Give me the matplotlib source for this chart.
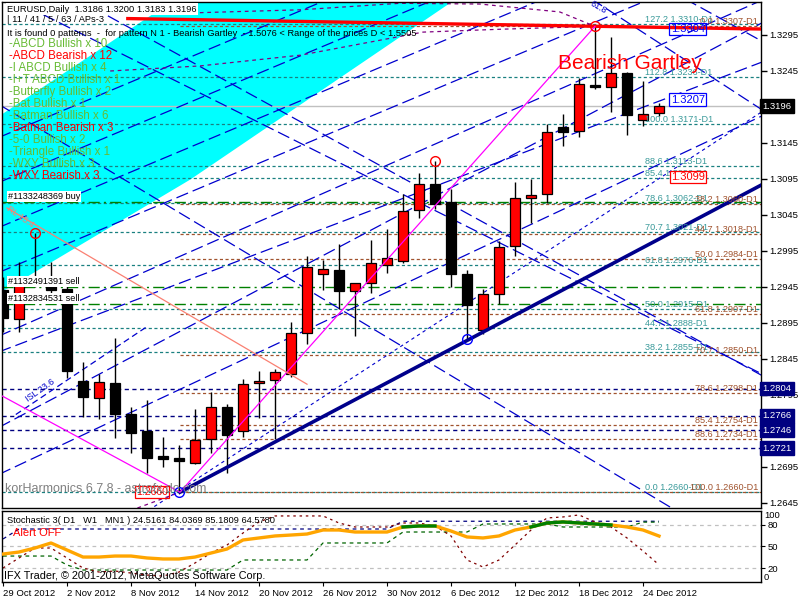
import matplotlib
matplotlib.use('Agg')
import matplotlib.pyplot as plt
import matplotlib.transforms as mtransforms
from matplotlib.patches import Rectangle, Polygon
import numpy as np

plt.rcParams['font.family'] = ['Liberation Sans', 'DejaVu Sans']

# ---------------- data ----------------
date_labels = ['29 Oct 2012', '2 Nov 2012', '8 Nov 2012', '14 Nov 2012', '20 Nov 2012',
               '26 Nov 2012', '30 Nov 2012', '6 Dec 2012', '12 Dec 2012', '18 Dec 2012',
               '24 Dec 2012']
date_bars = [0, 4, 8, 12, 16, 20, 24, 28, 32, 36, 40]

opens  = [1.2941, 1.2901, 1.2956, 1.2957, 1.2942, 1.2814, 1.2791, 1.2811, 1.2768, 1.2745,
          1.2710, 1.2708, 1.2701, 1.2734, 1.2778, 1.2745, 1.2811, 1.2816, 1.2824, 1.2881,
          1.2963, 1.2969, 1.2939, 1.2951, 1.2975, 1.2981, 1.3052, 1.3088, 1.3063, 1.2963,
          1.2885, 1.2935, 1.3002, 1.3069, 1.3074, 1.3167, 1.3162, 1.3226, 1.3223, 1.3242,
          1.3177, 1.3186]
highs  = [1.2959, 1.2980, 1.3020, 1.2980, 1.2948, 1.2841, 1.2824, 1.2874, 1.2778, 1.2788,
          1.2737, 1.2726, 1.2776, 1.2799, 1.2782, 1.2817, 1.2828, 1.2831, 1.2896, 1.2988,
          1.2983, 1.3005, 1.2951, 1.3010, 1.3026, 1.3074, 1.3103, 1.3120, 1.3081, 1.2969,
          1.2942, 1.3009, 1.3091, 1.3095, 1.3171, 1.3185, 1.3235, 1.3307, 1.3292, 1.3244,
          1.3231, 1.3200]
lows   = [1.2882, 1.2882, 1.2945, 1.2923, 1.2819, 1.2764, 1.2762, 1.2735, 1.2714, 1.2687,
          1.2695, 1.2660, 1.2699, 1.2714, 1.2687, 1.2737, 1.2763, 1.2734, 1.2820, 1.2866,
          1.2941, 1.2914, 1.2877, 1.2937, 1.2964, 1.2978, 1.3041, 1.3053, 1.2945, 1.2873,
          1.2880, 1.2921, 1.2988, 1.3034, 1.3062, 1.3141, 1.3153, 1.3220, 1.3188, 1.3156,
          1.3169, 1.3183]
closes = [1.2902, 1.2957, 1.2951, 1.2941, 1.2828, 1.2792, 1.2813, 1.2769, 1.2742, 1.2708,
          1.2706, 1.2703, 1.2732, 1.2778, 1.2739, 1.2810, 1.2814, 1.2827, 1.2881, 1.2973,
          1.2970, 1.2939, 1.2951, 1.2978, 1.2985, 1.3051, 1.3088, 1.3060, 1.2963, 1.2920,
          1.2935, 1.3001, 1.3069, 1.3073, 1.3160, 1.3160, 1.3227, 1.3223, 1.3242, 1.3184,
          1.3185, 1.3196]

stoch_d1 = [20.0, 34.0, 47.9, 47.9, 34.0, 20.0, 14.4, 15.8, 13.0, 10.2, 8.8, 14.4, 27.0,
            40.9, 52.1, 68.8, 84.2, 92.6, 92.6, 92.6, 92.6, 82.8, 77.2, 77.2, 77.2, 82.8,
            82.8, 78.6, 64.7, 31.2, 21.4, 31.2, 52.1, 73.0, 89.8, 91.2, 94.0, 84.2, 77.2,
            61.9, 43.7, 24.5]
stoch_w1 = [36.7, 36.7, 36.7, 36.7, 24.2, 17.2, 17.2, 17.2, 17.2, 17.2, 17.2, 17.2, 17.2,
            17.2, 17.2, 31.2, 31.2, 31.2, 31.2, 31.2, 54.9, 54.9, 54.9, 54.9, 54.9, 70.2,
            70.2, 70.2, 70.2, 70.2, 81.4, 81.4, 81.4, 81.4, 81.4, 77.2, 77.2, 77.2, 77.2,
            77.2, 84.0, 84.0]
stoch_mn1 = [60.5] + [74.4] * 24 + [85.2] * 17
stoch_avg = [39.5, 42.3, 47.9, 54.9, 45.1, 35.3, 35.3, 36.7, 36.7, 34.0, 32.6, 32.6, 35.3,
             40.9, 46.5, 59.1, 61.9, 64.7, 66.0, 67.4, 73.0, 73.0, 70.2, 70.2, 70.2, 77.2,
             78.6, 78.6, 71.6, 63.3, 61.9, 64.7, 73.0, 77.2, 82.8, 84.2, 82.8, 81.4, 80.0,
             77.2, 73.0, 64.6]
stoch_hi_bars = [25, 26, 27, 33, 34, 35, 36, 37, 38]
stoch_hi_vals = [77.2, 78.6, 78.6, 77.2, 82.8, 84.2, 82.8, 81.4, 80.0]

teal_pcts   = ['127.2', '112.8', '100.0', '88.6', '85.4', '78.6', '70.7', '61.8', '50.0',
               '44.7', '38.2', '0.0']
teal_prices = [1.3310, 1.3236, 1.3171, 1.3113, 1.3096, 1.3062, 1.3021, 1.2976, 1.2915,
               1.2888, 1.2855, 1.2660]
brown_pcts   = ['0.0', '38.2', '44.7', '50.0', '61.8', '70.7', '78.6', '85.4', '88.6', '100.0']
brown_prices = [1.3307, 1.3060, 1.3018, 1.2984, 1.2907, 1.2850, 1.2798, 1.2754, 1.2734, 1.2660]

order_prices = [1.3063, 1.2945, 1.2922]
order_labels = ['#1133248369 buy', '#1132491391 sell', '#1132834531 sell']
stop_prices = [1.2804, 1.2766, 1.2746, 1.2721]
current_price = 1.3196
price_ticks = [1.3295, 1.3245, 1.3145, 1.3095, 1.3045, 1.2995, 1.2945, 1.2895, 1.2845,
               1.2795, 1.2695, 1.2645]

pattern_lines = ['-ABCD Bullish x 10', '-ABCD Bearish x 12', '-I ABCD Bullish x 4',
                 '-I+T ABCD Bullish x 1', '-Butterfly Bullish x 2', '-Bat Bullish x 1',
                 '-Batman Bullish x 6', '-Batman Bearish x 3', '-5-0 Bullish x 2',
                 '-Triangle Bullish x 1', '-WXY Bullish x 3', '-WXY Bearish x 3']
pattern_bear = [False, True, False, False, False, False, False, True, False, False, False, True]

# drawing objects in (bar, price); grid lines as (anchor bar, anchor price, slope per bar)
zone_poly = [(11.6, 1.3357), (28.6, 1.3357), (28.25, 1.3344), (11.69, 1.3094),
             (0.125, 1.2941), (-0.8, 1.2941), (-0.8, 1.3174)]
resist_line = [(7.8, 1.33178), (47.4, 1.33033)]
trend_line = [(11.06, 1.2660), (47.4, 1.30867)]
xabcd_bars = [-0.5, 11.06, 37.0]
xabcd_prices = [1.2799, 1.2660, 1.3307]
rl_line = [(0.25, 1.30547), (19.0, 1.2810)]
isl_line = (1.5, 1.27783, 0.001489)
asc_lines = [(34.81, 1.31631, 0.001178), (30.0, 1.31728, 0.000978),
             (41.69, 1.32089, 0.000844), (44.63, 1.31533, 0.001044),
             (18.56, 1.33283, 0.000933), (18.56, 1.32658, 0.000933),
             (18.56, 1.32033, 0.000933), (18.56, 1.31408, 0.000933)]
fine_lines = [(36.06, 1.30242, 0.001444)]
desc_lines = [(19.19, 1.31672, -0.001222), (17.31, 1.29644, -0.001333),
              (36.88, 1.33436, -0.001444), (42.75, 1.33436, -0.001222),
              (18.56, 1.31450, -0.001111)]
arc1_bars = [6.7, 12.3, 18.6, 26.25, 31.1, 37.0]
arc1_prices = [1.3245, 1.3252, 1.3267, 1.3299, 1.3303, 1.3307]
arc2_bars = [12.3, 18.6, 24.8, 29.8, 34.8, 37.0]
arc2_prices = [1.3326, 1.3330, 1.3339, 1.3338, 1.3327, 1.3307]
arc3_bars = [8.4, 11.06]
arc3_prices = [1.2638, 1.2660]
red_marks_bars = [2, 27, 37]
red_marks_prices = [1.3020, 1.3120, 1.3307]
blue_marks_bars = [11, 29]
blue_marks_prices = [1.2660, 1.2873]

# ---------------- figure ----------------
W, H = 800, 600
fig = plt.figure(figsize=(8, 6), dpi=100)
fig.patch.set_facecolor('white')


def rect(l, t, r, b):
    return [l / W, 1 - b / H, (r - l) / W, (b - t) / H]


ax = fig.add_axes(rect(2, 2, 761, 508))
sx = fig.add_axes(rect(2, 511, 761, 582))
XL = (-0.0625, 47.375)
ax.set_xlim(*XL)
ax.set_ylim(1.263804, 1.334082)
sx.set_xlim(*XL)
sx.set_ylim(0.5, 99.5)
for a in (ax, sx):
    for sp in a.spines.values():
        sp.set_linewidth(1.0)
        sp.set_color('black')

xs = np.linspace(-1, 48, 2)

# cyan zone
ax.add_patch(Polygon(zone_poly, closed=True, facecolor='#00ffff', edgecolor='none', zorder=0))

# horizontal levels
ax.axhline(current_price, color='#c0c0c0', lw=1, zorder=1)
for p in teal_prices:
    ax.axhline(p, color='#1a8080', lw=0.9, dashes=(2.5, 2), zorder=1)
for p in brown_prices:
    ax.plot([11.06, 48], [p, p], color='#a0522d', lw=0.9, dashes=(2.5, 2), zorder=1)
for p in order_prices:
    ax.axhline(p, color='#008000', lw=1, dashes=(8, 3, 1.5, 3), zorder=1)
for p in stop_prices:
    ax.axhline(p, color='#000080', lw=1, dashes=(3, 2.5), zorder=1)

# blue grid lines
for b0, p0, s in asc_lines + desc_lines:
    ax.plot(xs, p0 + s * (xs - b0), color='#0000cd', lw=0.9, dashes=(10, 4), zorder=1)
for b0, p0, s in fine_lines:
    ax.plot(xs, p0 + s * (xs - b0), color='#0000cd', lw=0.8, dashes=(3, 3), zorder=1)
b0, p0, s = isl_line
bb = np.array([0.8, 9.0])
ax.plot(bb, p0 + s * (bb - b0), color='#0000cd', lw=0.9, dashes=(5, 3), zorder=1)

# purple arcs
ax.plot(arc1_bars, arc1_prices, color='#800080', lw=0.9, dashes=(3, 3), zorder=1)
ax.plot(arc2_bars, arc2_prices, color='#800080', lw=0.9, dashes=(3, 3), zorder=1)
ax.plot(arc3_bars, arc3_prices, color='#800080', lw=0.9, dashes=(3, 3), zorder=1)

# candles
for i, (o, h, l, c) in enumerate(zip(opens, highs, lows, closes)):
    ax.plot([i, i], [l, h], color='black', lw=1, zorder=2, solid_capstyle='butt')
    bull = c >= o
    lo, hi = min(o, c), max(o, c)
    ax.add_patch(Rectangle((i - 0.3, lo), 0.6, max(hi - lo, 0.00004),
                           facecolor='#ff0000' if bull else 'black',
                           edgecolor='black', lw=0.9, zorder=2.5))

# lines over candles
ax.plot(*zip(*resist_line), color='#ff0000', lw=2.4, zorder=3)
ax.plot(*zip(*trend_line), color='#00008b', lw=2.6, zorder=3)
ax.plot(xabcd_bars, xabcd_prices, color='#ff00ff', lw=0.9, zorder=3)
ax.plot(*zip(*rl_line), color='#fa8072', lw=0.9, zorder=3)
ax.plot(red_marks_bars, red_marks_prices, 'o', ms=7, mfc='none', mec='#ff0000', mew=1, zorder=4)
ax.plot(blue_marks_bars, blue_marks_prices, 'o', ms=7, mfc='none', mec='#0000ff', mew=1, zorder=4)

# level labels
for t, p in zip(teal_pcts, teal_prices):
    ax.text(40.1, p, f'{t} {p:.4f}-D1', color='#3a9a9a', fontsize=6.6, ha='left', va='bottom', zorder=5)
for t, p in zip(brown_pcts, brown_prices):
    ax.text(47.2, p, f'{t} {p:.4f}-D1', color='#a0522d', fontsize=6.6, ha='right', va='bottom', zorder=5)

# boxed price labels in the chart
box_kw = dict(fontsize=8, ha='center', va='center', zorder=6)
ax.text(42.8, 1.33033, '1.3304', color='#0000ff',
        bbox=dict(boxstyle='square,pad=0.12', fc='none', ec='#0000ff', lw=0.9), **box_kw)
ax.text(42.8, 1.3205, '1.3207', color='#0000ff',
        bbox=dict(boxstyle='square,pad=0.12', fc='white', ec='#0000ff', lw=0.9), **box_kw)
ax.text(42.8, 1.30978, '1.3099', color='#ff0000',
        bbox=dict(boxstyle='square,pad=0.12', fc='white', ec='#ff0000', lw=0.9), **box_kw)
ax.text(9.3, 1.2660, '1.2660', color='#ff0000', fontsize=7.5, ha='center', va='center', zorder=6,
        bbox=dict(boxstyle='square,pad=0.12', fc='none', ec='#ff0000', lw=0.9))

ax.text(39.2, 1.3255, 'Bearish Gartley', color='#ff0000', fontsize=15, ha='center', va='center', zorder=6)
ax.text(0.1, 1.2660 + 0.0005, 'korHarmonics 6.7.8 - astrofx.do.com', color='#808080', fontsize=9,
        ha='left', va='center', zorder=6)
ax.text(1.1, 1.3042, 'RL 15.4', color='#fa8072', fontsize=6.5, rotation=-35, ha='center', va='center', zorder=6)
ax.text(2.3, 1.2802, 'ISL 23.6', color='#0000cd', fontsize=6.5, rotation=35, ha='center', va='center', zorder=6)
ax.text(37.2, 1.3333, '61.8', color='#0000cd', fontsize=6.5, rotation=-30, ha='center', va='center', zorder=6)

# order labels
for t, p in zip(order_labels, order_prices):
    ax.text(0.3, p + 0.0001, t, fontsize=6.6, ha='left', va='bottom', zorder=6,
            bbox=dict(boxstyle='square,pad=0.1', fc='white', ec='none'))

# right axis
ax.yaxis.tick_right()
ax.set_yticks(price_ticks)
ax.set_yticklabels([f'{p:.4f}' for p in price_ticks])
ax.tick_params(axis='y', direction='out', length=4, width=1, labelsize=6.8, pad=2)
ax.set_xticks([])

trans = mtransforms.blended_transform_factory(ax.transAxes, ax.transData)
ax.text(1.002, current_price, '1.3196', transform=trans, color='white', fontsize=6.8,
        ha='left', va='center', zorder=10, clip_on=False,
        bbox=dict(boxstyle='square,pad=0.25', fc='black', ec='black'))
for p in stop_prices:
    ax.text(1.002, p, f'{p:.4f}', transform=trans, color='white', fontsize=6.8,
            ha='left', va='center', zorder=10, clip_on=False,
            bbox=dict(boxstyle='square,pad=0.25', fc='#000080', ec='#000080'))

# stochastic panel
for lv in (80, 50, 20):
    sx.axhline(lv, color='#c0c0c0', lw=0.9, dashes=(3, 3), zorder=0)
bars = np.arange(len(stoch_avg))
sx.plot(bars, stoch_mn1, color='#000080', lw=0.9, dashes=(3, 3), zorder=2)
sx.plot(bars, stoch_w1, color='#006400', lw=0.9, dashes=(3, 3), zorder=2)
sx.plot(bars, stoch_d1, color='#800000', lw=0.9, dashes=(2, 3), zorder=2)
sx.plot(bars, stoch_avg, color='#ffa500', lw=2.4, zorder=3)
hi = np.full(len(stoch_avg), np.nan)
hi[stoch_hi_bars] = stoch_hi_vals
sx.plot(bars, hi, color='#008000', lw=2.4, zorder=4)
sx.yaxis.tick_right()
sx.set_yticks([80, 50, 20])
sx.set_yticklabels(['80', '50', '20'])
sx.tick_params(axis='y', direction='out', length=3, labelsize=6.8, pad=2)
sx.text(1.004, 93, '100', transform=sx.get_yaxis_transform(), fontsize=6.8, va='center', ha='left')
sx.text(1.004, 7, '0', transform=sx.get_yaxis_transform(), fontsize=6.8, va='center', ha='left')
sx.set_xticks(date_bars)
sx.set_xticklabels(date_labels, ha='left')
sx.tick_params(axis='x', direction='out', length=3, labelsize=6.8, pad=2)

sx.text(0.007, 0.86, 'Stochastic 3( D1   W1   MN1 ) 24.5161 84.0369 85.1809 64.5780',
        transform=sx.transAxes, fontsize=6.7, ha='left', va='center')
sx.text(0.014, 0.69, 'Alert OFF', transform=sx.transAxes, color='#ff0000', fontsize=8, ha='left', va='center')
sx.text(0.003, 0.09, 'IFX Trader, © 2001-2012, MetaQuotes Software Corp.', transform=sx.transAxes,
        fontsize=7.8, ha='left', va='center', zorder=6)

# header texts
def ftext(x, y, s, **kw):
    fig.text(x / W, 1 - y / H, s, va='center', ha='left', **kw)

ftext(7, 9, 'EURUSD,Daily  1.3186 1.3200 1.3183 1.3196', fontsize=6.7,
      bbox=dict(boxstyle='square,pad=0.15', fc='white', ec='none'))
ftext(7, 20, '| 11 / 41 / 5 / 63 / APs-3', fontsize=6.7)
ftext(7, 33, 'It is found 0 patterns  -  for pattern N 1 - Bearish Gartley  - 1.5076 < Range of the prices D < 1.5505',
      fontsize=6.7)
for k, (t, bear) in enumerate(zip(pattern_lines, pattern_bear)):
    ftext(9, 44 + 12 * k, t, fontsize=8.3, color='#ff0000' if bear else '#66bb33')

fig.savefig('out.png', dpi=100)
